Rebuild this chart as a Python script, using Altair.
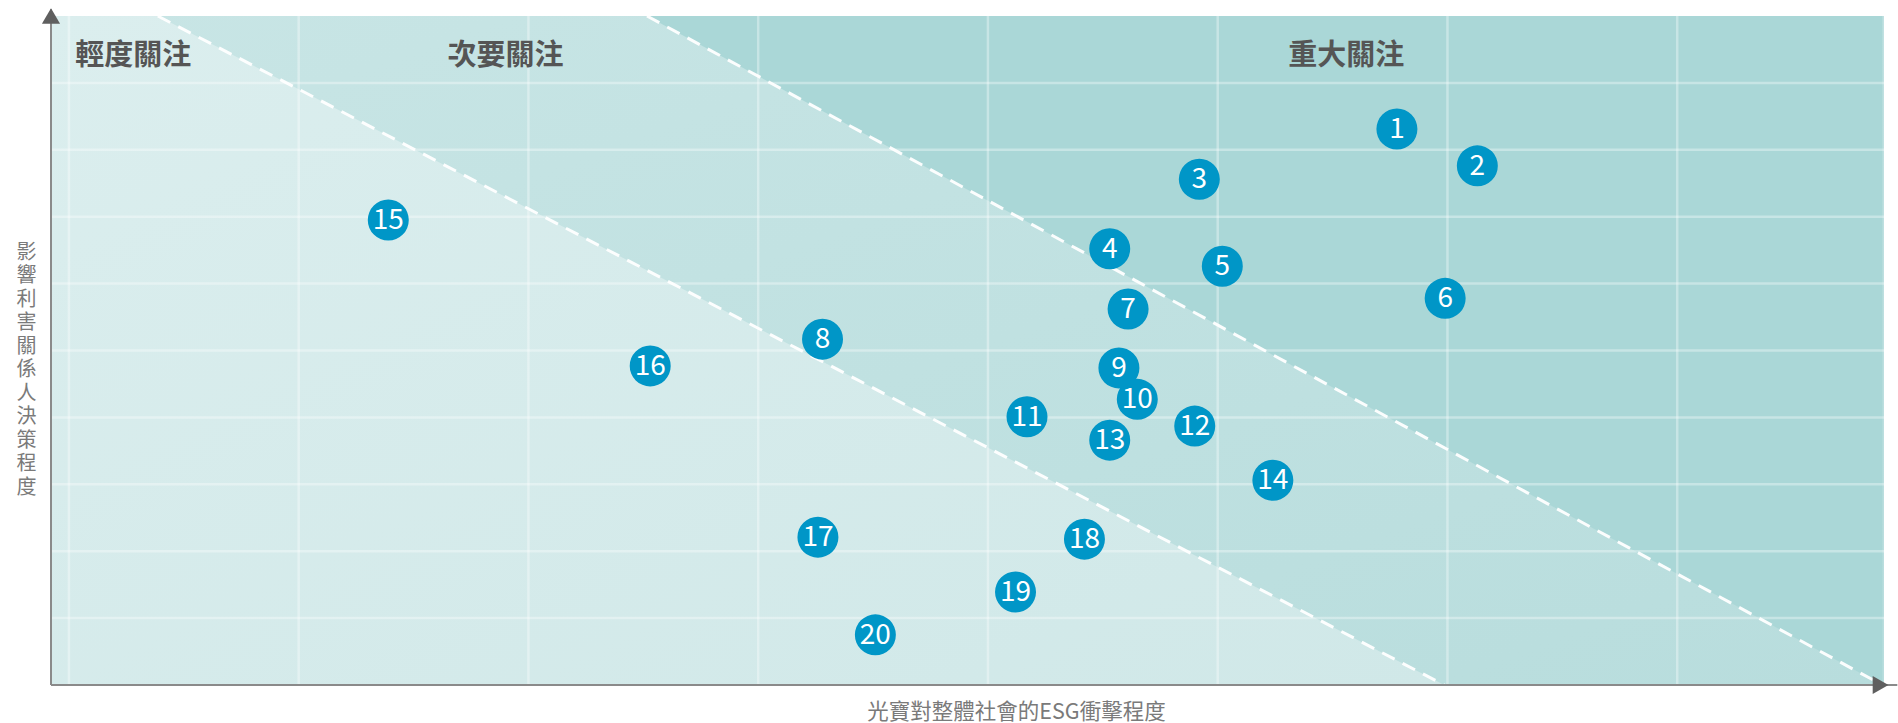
import altair as alt
import pandas as pd

# ---- data ----
ids = [str(i) for i in range(1, 21)]
esg_impact = [5.78, 6.13, 4.92, 4.53, 5.02, 5.99, 4.61, 3.28, 4.57, 4.65,
              4.17, 4.90, 4.53, 5.24, 1.39, 2.53, 3.26, 4.42, 4.12, 3.51]
stakeholder = [8.31, 7.76, 7.56, 6.52, 6.26, 5.78, 5.62, 5.17, 4.74, 4.27,
               4.01, 3.87, 3.66, 3.06, 6.95, 4.77, 2.21, 2.18, 1.39, 0.75]

zone_names = ["輕度關注", "次要關注", "重大關注"]
zone_label_x = [0.28, 1.90, 5.56]
zone_label_y = [9.40, 9.40, 9.40]

x_min, x_max = -0.078, 7.9
y_min, y_max = 0, 10
grid_x = [0, 1, 2, 3, 4, 5, 6, 7]
grid_y = [1, 2, 3, 4, 5, 6, 7, 8, 9]

# boundary lines (start at top edge, end at bottom edge)
line1 = {"x": 0.387, "y": 10, "x2": 5.986, "y2": 0}
line2 = {"x": 2.516, "y": 10, "x2": 7.893, "y2": 0}

x_title = "光寶對整體社會的ESG衝擊程度"
y_title = "影響利害關係人決策程度"

FONT = "Noto Sans CJK TC"

xs = alt.Scale(domain=[x_min, x_max], nice=False, zero=False)
ys = alt.Scale(domain=[y_min, y_max], nice=False, zero=False)

x_axis = alt.Axis(title=x_title, labels=False, ticks=False, domain=False, grid=False,
                  titleFont=FONT, titleFontSize=21.5, titleFontWeight="normal",
                  titleColor="#7a7a7a", titleX=965, titleY=27,
                  titleBaseline="middle", titleAlign="center")
y_axis = alt.Axis(title=list(y_title), labels=False, ticks=False, domain=False, grid=False,
                  titleFont=FONT, titleFontSize=20, titleFontWeight="normal",
                  titleColor="#7a7a7a", titleAngle=0, titleX=-25, titleY=236,
                  titleLineHeight=23.5, titleBaseline="middle", titleAlign="center")


def X(f="x"):
    return alt.X(f"{f}:Q", scale=xs, axis=x_axis)


def Y(f="y"):
    return alt.Y(f"{f}:Q", scale=ys, axis=y_axis)


# zones
zone_mid = alt.Chart(pd.DataFrame({"x": [x_min, x_max], "y": [y_max, y_max], "y2": [y_min, y_min]})).mark_area(
    color=alt.LinearGradient(gradient="linear", x1=0, y1=0, x2=1, y2=1,
                             stops=[alt.GradientStop(color="#c8e5e5", offset=0),
                                    alt.GradientStop(color="#b8dddd", offset=1)])
).encode(x=X(), y=Y(), y2="y2:Q")

zone_low = alt.Chart(pd.DataFrame({"x": [x_min, line1["x"], line1["x2"]],
                                   "y": [y_max, line1["y"], line1["y2"]],
                                   "y2": [y_min, y_min, y_min]})).mark_area(
    color=alt.LinearGradient(gradient="linear", x1=0, y1=0, x2=1, y2=1,
                             stops=[alt.GradientStop(color="#dbeeee", offset=0),
                                    alt.GradientStop(color="#d0e8e8", offset=1)])
).encode(x=X(), y=Y(), y2="y2:Q")

zone_high = alt.Chart(pd.DataFrame({"x": [line2["x"], line2["x2"]],
                                    "y": [y_max, y_max],
                                    "y2": [line2["y"], line2["y2"]]})).mark_area(
    color="#aad7d7"
).encode(x=X(), y=Y(), y2="y2:Q")

# grid lines
gx = alt.Chart(pd.DataFrame({"x": grid_x})).mark_rule(color="white", strokeWidth=2.5, opacity=0.35).encode(
    x=X(), y=alt.value(0), y2=alt.value(669))
gy = alt.Chart(pd.DataFrame({"y": grid_y})).mark_rule(color="white", strokeWidth=2.5, opacity=0.35).encode(
    y=Y(), x=alt.value(0), x2=alt.value(1833))

# dashed boundaries
dashes = alt.Chart(pd.DataFrame([line1, line2])).mark_rule(
    color="white", strokeWidth=3, strokeDash=[14, 9], opacity=0.95
).encode(x=X(), y=Y(), x2="x2:Q", y2="y2:Q")

# axes lines and arrows
axis_df = pd.DataFrame({"x": [x_min, x_min], "y": [y_min, y_min], "x2": [7.958, x_min], "y2": [y_min, 10.1]})
axes = alt.Chart(axis_df).mark_rule(color="#8a8a8a", strokeWidth=2, clip=False).encode(
    x=X(), y=Y(), x2="x2:Q", y2="y2:Q")
arrow_df = pd.DataFrame({"x": [x_min, 7.885], "y": [10.0, 0.0], "shape": ["triangle-up", "triangle-right"]})
arrows = alt.Chart(arrow_df).mark_point(filled=True, color="#5f5f5f", size=330, opacity=1, clip=False).encode(
    x=X(), y=Y(), shape=alt.Shape("shape:N", scale=None))

# zone labels
labels = alt.Chart(pd.DataFrame({"t": zone_names, "x": zone_label_x, "y": zone_label_y})).mark_text(
    font=FONT, fontSize=29, fontWeight="bold", color="#555555", baseline="middle", align="center"
).encode(x=X(), y=Y(), text="t:N")

# bubbles
pts = pd.DataFrame({"id": ids, "x": esg_impact, "y": stakeholder})
bubbles = alt.Chart(pts).mark_circle(size=1680, color="#0096c7", opacity=1).encode(x=X(), y=Y())
nums = alt.Chart(pts).mark_text(font=FONT, fontSize=28, color="white", baseline="middle", align="center", dy=1).encode(
    x=X(), y=Y(), text="id:N")

chart = alt.layer(zone_mid, zone_low, zone_high, gx, gy, dashes, axes, arrows, labels, bubbles, nums).properties(
    width=1833, height=669,
    padding={"left": 51, "top": 16, "right": 14, "bottom": 38},
    autosize=alt.AutoSizeParams(type="none"),
    background="white",
).configure_view(stroke=None)

chart.save("out.html", embed_options={"renderer": "svg", "actions": False})
